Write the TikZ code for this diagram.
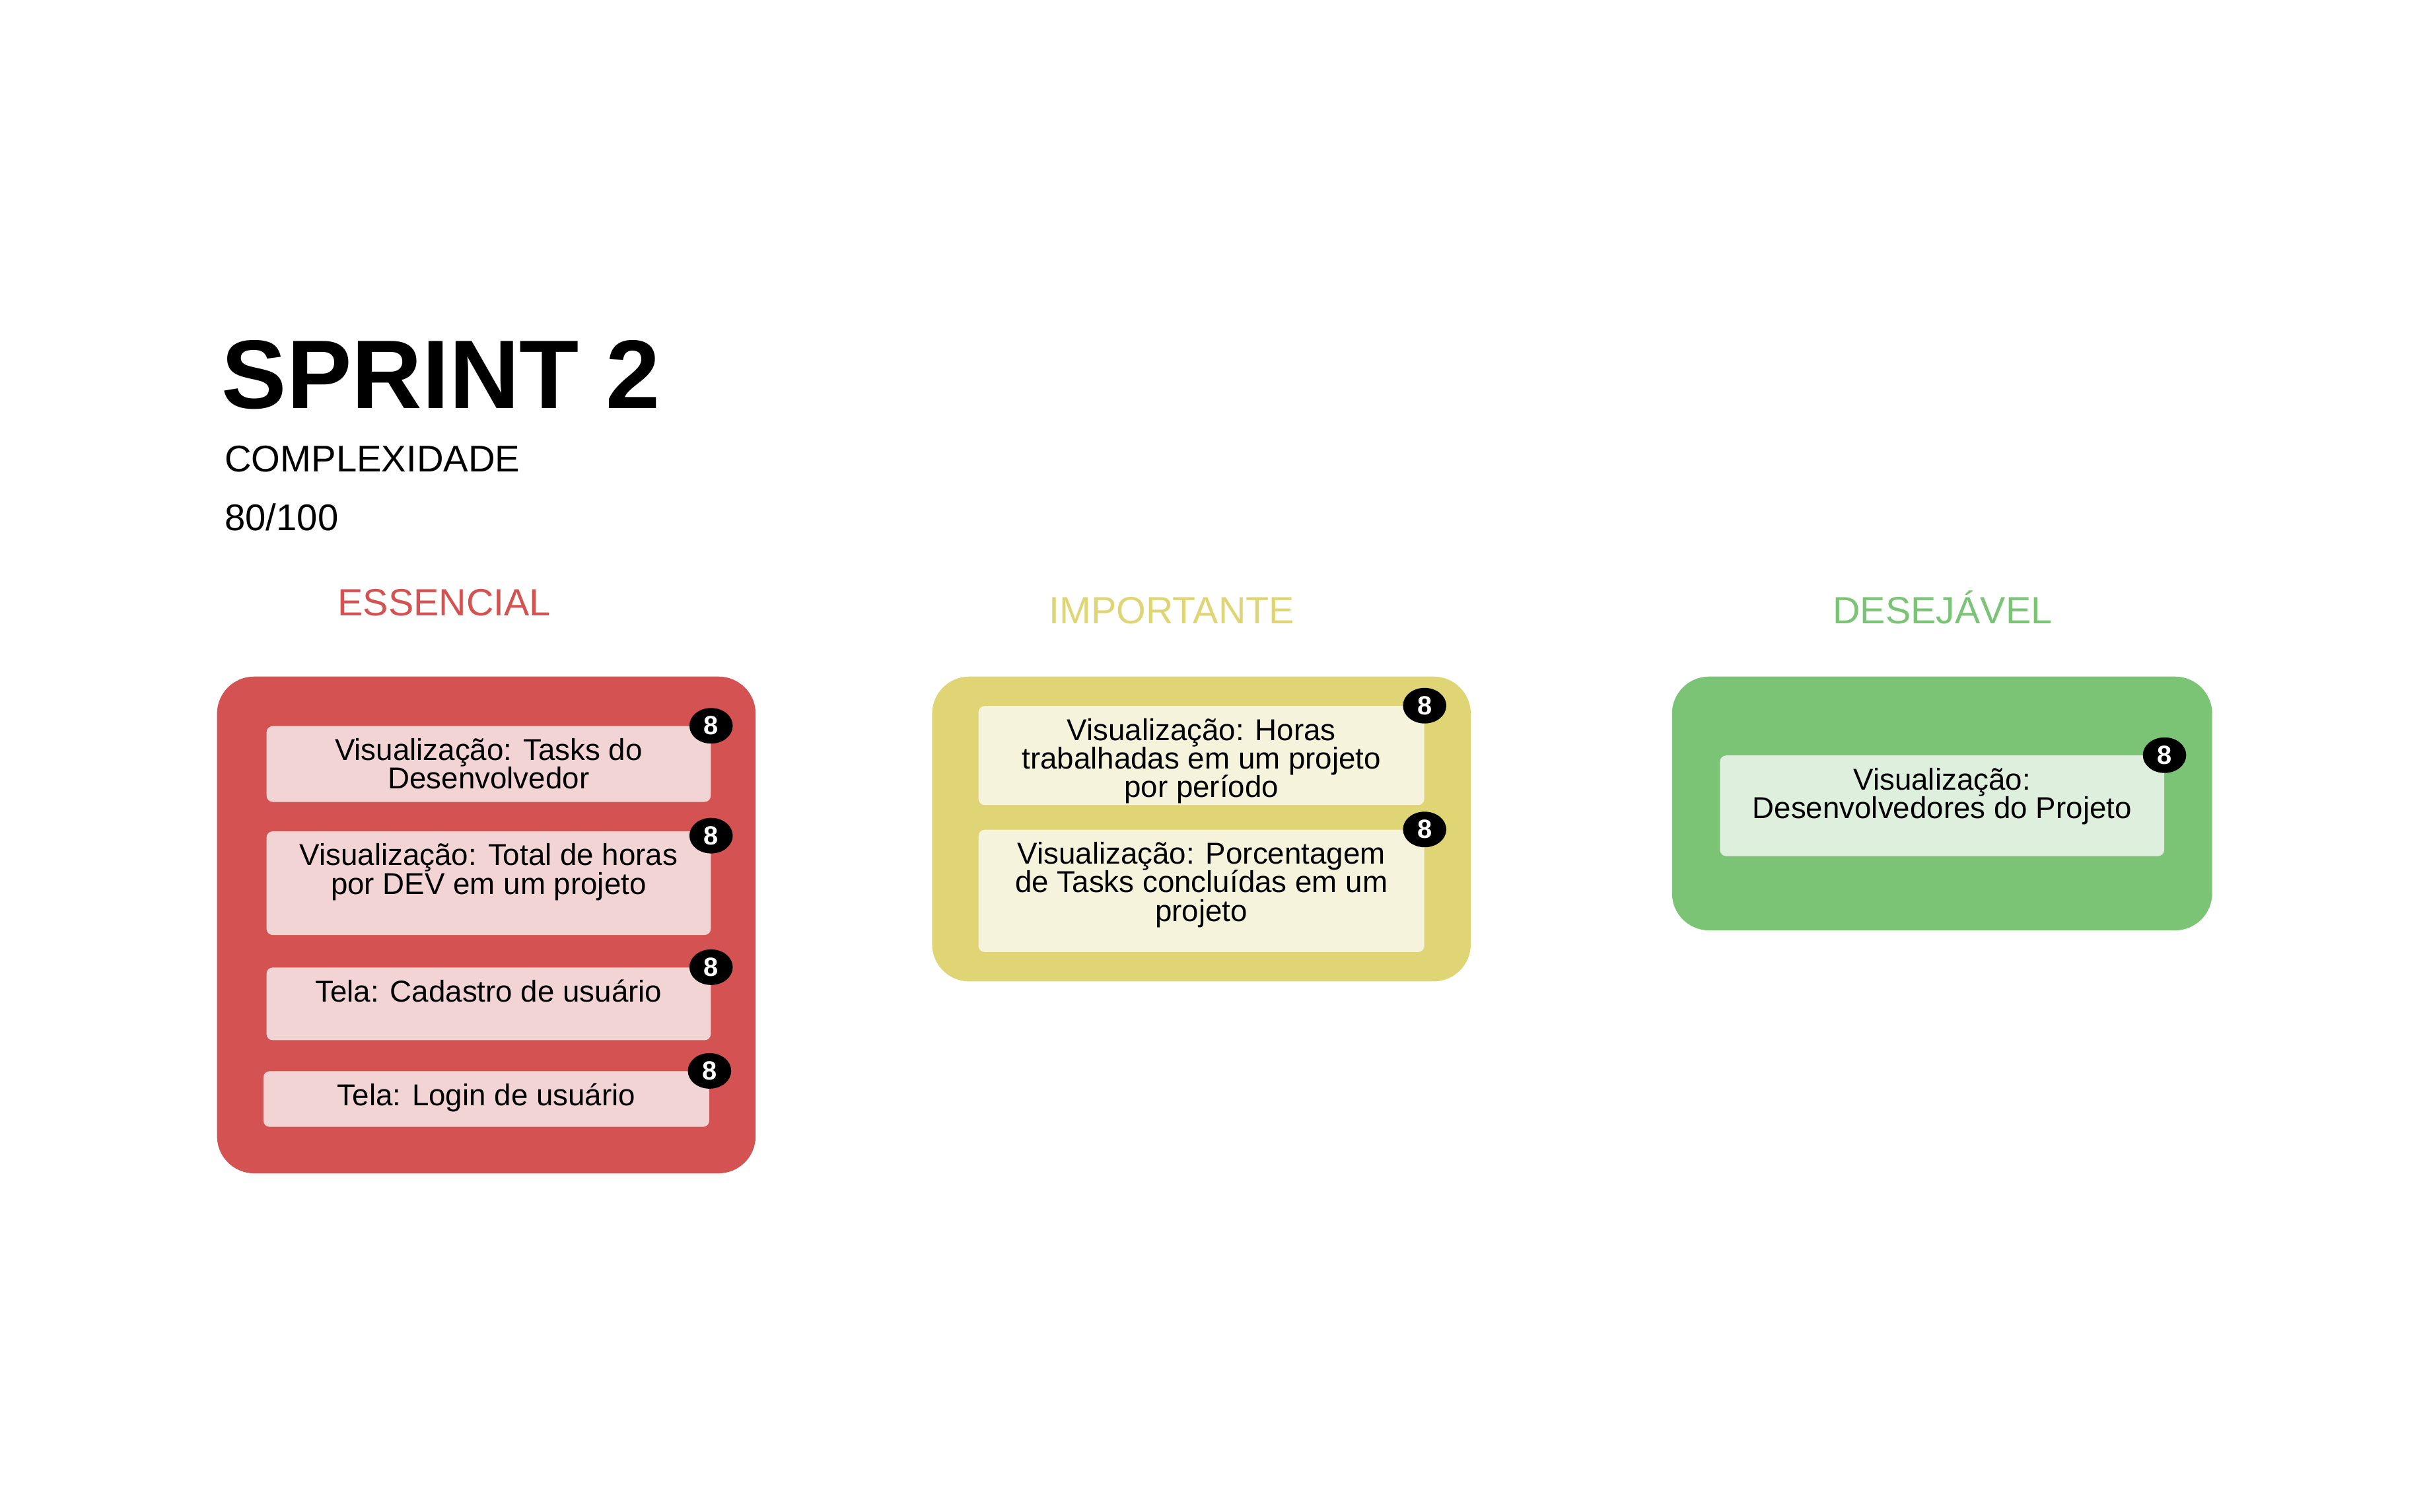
\documentclass[tikz,border=0pt]{standalone}
\usepackage{fontspec}
\setmainfont{Liberation Sans}
\usepackage{tikz}
\usetikzlibrary{positioning,shapes.geometric}

\begin{document}
\begin{tikzpicture}[
            x=1pt, y=-1pt,
            box/.style={rounded corners=24pt,anchor=north west,inner sep=0pt},
            card/.style={rounded corners=4pt,anchor=north west,inner sep=0pt},
            cardtext/.style={align=center,anchor=north,inner sep=0pt,
                font=\fontsize{19.5}{18.5}\selectfont},
            badge/.style={ellipse,fill=black,text=white,inner sep=0pt,
                minimum width=28pt,minimum height=23pt,
                font=\fontsize{17}{17}\selectfont\bfseries},
            prio/.style={anchor=base,font=\fontsize{24.5}{25}\selectfont}
        ]
            \definecolor{redx}{HTML}{D45252}
            \definecolor{redl}{HTML}{F2D4D4}
            \definecolor{yelx}{HTML}{E0D574}
            \definecolor{yell}{HTML}{F6F3DC}
            \definecolor{grex}{HTML}{7BC475}
            \definecolor{grel}{HTML}{DFEFDE}

            \path[use as bounding box,fill=white] (0,0) rectangle (1568,977);

            % heading
            \node (title) [anchor=base west,inner sep=0pt,font=\fontsize{63}{63}\selectfont\bfseries]
                at (143,264) {SPRINT 2};
            \node (cpx)   [anchor=base west,inner sep=0pt,font=\fontsize{24}{24}\selectfont]
                at (145,305) {COMPLEXIDADE};
            \node (pts)   [anchor=base west,inner sep=0pt,font=\fontsize{24}{24}\selectfont]
                at (145,343) {80/100};

            % column titles
            \node (ess) [prio,text=redx] at (287,398)  {ESSENCIAL};
            \node (imp) [prio,text=yelx] at (757,403)  {IMPORTANTE};
            \node (des) [prio,text=grex] at (1255,403) {DESEJÁVEL};

            % essencial
            \node (rbox) [box,fill=redx,minimum width=348pt,minimum height=321pt] at (140,437) {};
            \begin{scope}[every node/.append style={fill=redl}]
                \node (r1) [card,minimum width=287pt,minimum height=49pt] at (172,469) {};
                \node (r2) [card,minimum width=287pt,minimum height=67pt] at (172,537) {};
                \node (r3) [card,minimum width=287pt,minimum height=47pt] at (172,625) {};
                \node (r4) [card,minimum width=288pt,minimum height=36pt] at (170,692) {};
            \end{scope}
            \node (r1t) [cardtext,below=8pt of r1.north] {Visualização: Tasks do\\Desenvolvedor};
            \node (r2t) [cardtext,below=8pt of r2.north] {Visualização: Total de horas\\por DEV em um projeto};
            \node (r3t) [cardtext,below=8pt of r3.north] {Tela: Cadastro de usuário};
            \node (r4t) [cardtext,below=8pt of r4.north] {Tela: Login de usuário};
            \node (r1b) [badge] at (r1.north east) {8};
            \node (r2b) [badge] at ([yshift=-3pt]r2.north east) {8};
            \node (r3b) [badge] at (r3.north east) {8};
            \node (r4b) [badge] at (r4.north east) {8};

            % importante
            \node (ybox) [box,fill=yelx,minimum width=348pt,minimum height=197pt] at (602,437) {};
            \begin{scope}[every node/.append style={fill=yell}]
                \node (y1) [card,minimum width=288pt,minimum height=64pt] at (632,456) {};
                \node (y2) [card,minimum width=288pt,minimum height=79pt] at (632,536) {};
            \end{scope}
            \node (y1t) [cardtext,below=8pt of y1.north] {Visualização: Horas\\trabalhadas em um projeto\\por período};
            \node (y2t) [cardtext,below=8pt of y2.north] {Visualização: Porcentagem\\de Tasks concluídas em um\\projeto};
            \node (y1b) [badge] at (y1.north east) {8};
            \node (y2b) [badge] at (y2.north east) {8};

            % desejavel
            \node (gbox) [box,fill=grex,minimum width=349pt,minimum height=164pt] at (1080,437) {};
            \node (g1) [card,fill=grel,minimum width=287pt,minimum height=65pt] at (1111,488) {};
            \node (g1t) [cardtext,below=8pt of g1.north] {Visualização:\\Desenvolvedores do Projeto};
            \node (g1b) [badge] at (g1.north east) {8};
        \end{tikzpicture}
\end{document}
